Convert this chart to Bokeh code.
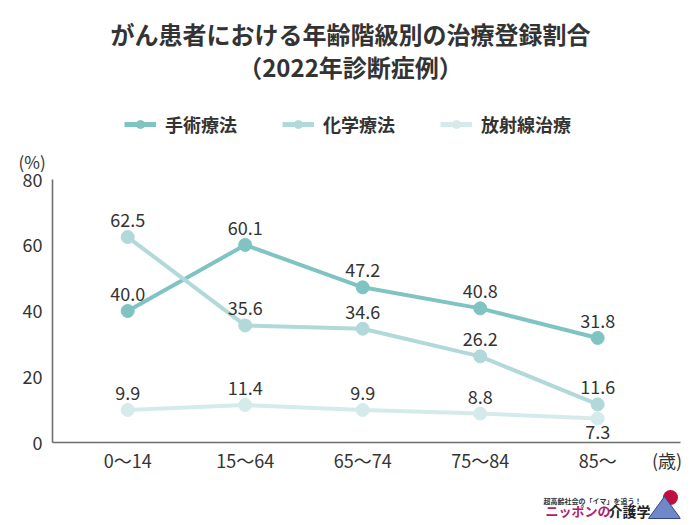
from bokeh.plotting import figure
from bokeh.layouts import column
from bokeh.models import (ColumnDataSource, Range1d, FixedTicker, Legend, LegendItem, Title)
from bokeh.core.properties import value
from bokeh.embed import file_html
from bokeh.resources import INLINE

categories = ["0〜14", "15〜64", "65〜74", "75〜84", "85〜"]
surgery = [40.0, 60.1, 47.2, 40.8, 31.8]
chemo = [62.5, 35.6, 34.6, 26.2, 11.6]
radiation = [9.9, 11.4, 9.9, 8.8, 7.3]
series_names = ["手術療法", "化学療法", "放射線治療"]
y_ticks = [0, 20, 40, 60, 80]
title_lines = ["がん患者における年齢階級別の治療登録割合", "（2022年診断症例）"]
y_unit = "(%)"
x_unit = "(歳)"
logo_sub = "超高齢社会の「イマ」を追う！"
logo_a = "ニッポンの"
logo_b = "介護学"

FONT = "Noto Sans CJK JP"
colors = ["#80c3c3", "#b2d9d9", "#d5ebeb"]
TXT = "#333333"
LEFT, RIGHT, FW = 52, 4, 628
H_HEAD = 140
H_FOOT = 44
NAN = float("nan")


def blank(height):
    f = figure(frame_width=FW, frame_height=height, output_backend="svg", toolbar_location=None,
               x_range=Range1d(LEFT, LEFT + FW), y_range=Range1d(height, 0),
               min_border_left=LEFT, min_border_right=RIGHT,
               min_border_top=0, min_border_bottom=0,
               x_axis_location=None, y_axis_location=None)
    f.grid.visible = False
    f.outline_line_color = None
    return f


# ---------- header: title and legend ----------
head = blank(H_HEAD)
head.text([350], [33], text=[title_lines[0]], text_font=value(FONT), text_font_size="24px",
          text_font_style="bold", text_color=TXT, text_align="center", text_baseline="middle")
head.text([350], [66], text=[title_lines[1]], text_font=value(FONT), text_font_size="24px",
          text_font_style="bold", text_color=TXT, text_align="center", text_baseline="middle")

items = []
for name, col in zip(series_names, colors):
    dummy = ColumnDataSource(dict(x=[NAN], y=[NAN]))
    r1 = head.line("x", "y", source=dummy, line_color=col, line_width=5)
    r2 = head.scatter("x", "y", source=dummy, size=13, fill_color=col, line_color=col)
    items.append(LegendItem(label=name, renderers=[r1, r2]))
legend = Legend(items=items, orientation="horizontal", location=(72, 3),
                label_text_font=FONT, label_text_font_size="18px", label_text_font_style="bold",
                label_text_color=TXT, glyph_width=32, glyph_height=20, label_height=20,
                label_standoff=9, spacing=45, padding=0, margin=0,
                border_line_color=None, background_fill_alpha=0)
head.add_layout(legend, "center")

# ---------- main chart ----------
xs = list(range(len(categories)))
p = figure(frame_width=FW, frame_height=263, output_backend="svg", toolbar_location=None,
           x_range=Range1d(-0.64, 4.705), y_range=Range1d(0, 80),
           min_border_left=LEFT, min_border_right=RIGHT, min_border_top=34, min_border_bottom=29)
p.title = None
p.add_layout(Title(text=y_unit, align="left", offset=-34, standoff=12,
                   text_font=FONT, text_font_size="17px", text_font_style="normal",
                   text_color=TXT), "above")
p.outline_line_color = None
p.grid.grid_line_color = None

for ax in (p.xaxis[0], p.yaxis[0]):
    ax.axis_line_color = "#6e6e6e"
    ax.axis_line_width = 1.6
    ax.major_tick_line_color = None
    ax.minor_tick_line_color = None
    ax.major_tick_out = 0
    ax.major_tick_in = 0
    ax.minor_tick_out = 0
    ax.minor_tick_in = 0
    ax.major_label_text_font = FONT
    ax.major_label_text_font_size = "18px"
    ax.major_label_text_color = TXT
p.yaxis.major_label_standoff = 10
p.xaxis.major_label_standoff = 4

p.yaxis.ticker = FixedTicker(ticks=y_ticks)
unit_pos = 4.59
p.xaxis.ticker = FixedTicker(ticks=xs + [unit_pos])
overrides = {i: c for i, c in enumerate(categories)}
overrides[unit_pos] = x_unit
p.xaxis.major_label_overrides = overrides

all_series = [surgery, chemo, radiation]
for name, vals, col in zip(series_names, all_series, colors):
    src = ColumnDataSource(dict(x=xs, y=vals))
    p.line("x", "y", source=src, line_color=col, line_width=4)
    p.scatter("x", "y", source=src, size=13, fill_color=col, line_color=col)


def add_labels(vals, below_idx=()):
    up = dict(x=[], y=[], t=[])
    dn = dict(x=[], y=[], t=[])
    for i, v in enumerate(vals):
        d = dn if i in below_idx else up
        d["x"].append(i)
        d["y"].append(v)
        d["t"].append(f"{v:.1f}")
    if up["x"]:
        p.text("x", "y", text="t", source=ColumnDataSource(up), text_font=value(FONT),
               text_font_size="18px", text_color=TXT, text_align="center",
               text_baseline="bottom", y_offset=-10)
    if dn["x"]:
        p.text("x", "y", text="t", source=ColumnDataSource(dn), text_font=value(FONT),
               text_font_size="18px", text_color=TXT, text_align="center",
               text_baseline="top", y_offset=6)


add_labels(surgery)
add_labels(chemo)
add_labels(radiation, below_idx=(4,))

# ---------- footer: logo ----------
foot = blank(H_FOOT)
foot.text([592], [25], text=[logo_sub], text_font=value(FONT), text_font_size="7px",
          text_font_style="bold", text_color="#333333", text_align="center", text_baseline="middle")
foot.text([545], [35], text=[logo_a], text_font=value(FONT), text_font_size="13px",
          text_font_style="bold", text_color="#b0206e", text_align="left", text_baseline="middle")
foot.text([608], [35], text=[logo_b], text_font=value(FONT), text_font_size="14px",
          text_font_style="bold", text_color="#222222", text_align="left", text_baseline="middle")
foot.scatter([670], [22], size=15, fill_color="#c01040", line_color=None)
foot.patch([648, 664, 680], [43, 21, 43], fill_color="#7088c8", line_color="#34448f", line_width=1)

layout = column(head, p, foot, spacing=0)
open("out.html", "w").write(file_html(layout, INLINE))
